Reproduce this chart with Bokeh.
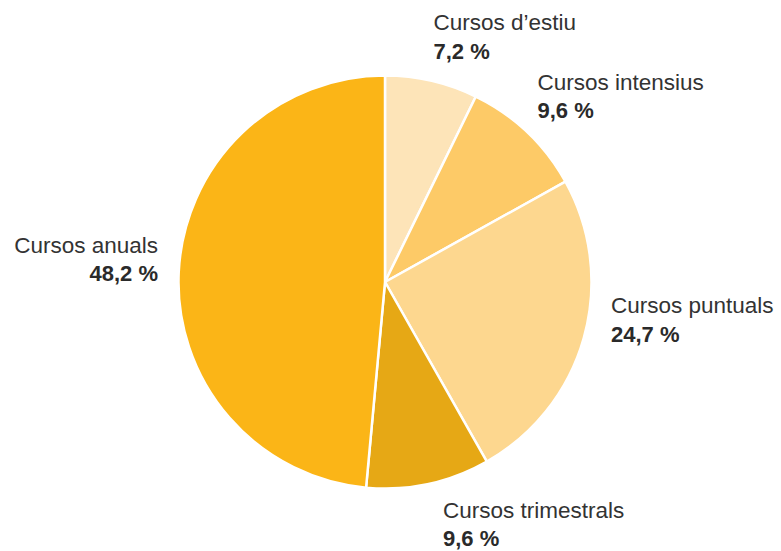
import math
from bokeh.plotting import figure
from bokeh.models import Range1d, ColumnDataSource
from bokeh.core.properties import value
from bokeh.embed import file_html
from bokeh.resources import INLINE

# ---- data ----
categories = ["Cursos d’estiu", "Cursos intensius", "Cursos puntuals",
              "Cursos trimestrals", "Cursos anuals"]
shares = [7.2, 9.6, 24.7, 9.6, 48.2]
pct_labels = ["7,2 %", "9,6 %", "24,7 %", "9,6 %", "48,2 %"]
colors = ["#FDE4B8", "#FDCA67", "#FDD78F", "#E6A815", "#FBB517"]

# ---- layout (pixels, relative to pie centre; y downwards) ----
label_dx = [48.5, 152.5, 226, 58, -227]
label_dy = [-259.5, -200, 23.5, 228, -37]
label_align = ["left", "left", "left", "left", "right"]
line_gap = 28.5

W, H = 781, 551
cx, cy = 384.5, H - 281.5  # data coords of centre
R = 206.5

total = sum(shares)
starts, ends = [], []
cum = 0.0
for s in shares:
    starts.append(math.pi / 2 - 2 * math.pi * cum / total)
    cum += s
    ends.append(math.pi / 2 - 2 * math.pi * cum / total)

p = figure(width=W, height=H, output_backend="svg", toolbar_location=None,
           x_range=Range1d(0, W), y_range=Range1d(0, H), min_border=0)
p.axis.visible = False
p.grid.visible = False
p.outline_line_color = None
p.background_fill_color = "white"

src = ColumnDataSource(dict(start=starts, end=ends, color=colors))
p.wedge(x=cx, y=cy, radius=R, start_angle="start", end_angle="end",
        direction="clock", fill_color="color", line_color="white",
        line_width=2.5, source=src)

lx = [cx + dx for dx in label_dx]
ly = [cy - dy for dy in label_dy]
ly2 = [y - line_gap for y in ly]
tsrc = ColumnDataSource(dict(x=lx, y=ly, y2=ly2, name=categories,
                             pct=pct_labels, align=label_align))
p.text(x="x", y="y", text="name", text_align="align",
       text_baseline="alphabetic", text_font=value("Liberation Sans"),
       text_font_size="22.5px", text_color="#333333", source=tsrc)
p.text(x="x", y="y2", text="pct", text_align="align",
       text_baseline="alphabetic", text_font=value("Liberation Sans"),
       text_font_size="22px", text_font_style="bold", text_color="#2a2a2a",
       source=tsrc)

open("out.html", "w").write(file_html(p, INLINE))
